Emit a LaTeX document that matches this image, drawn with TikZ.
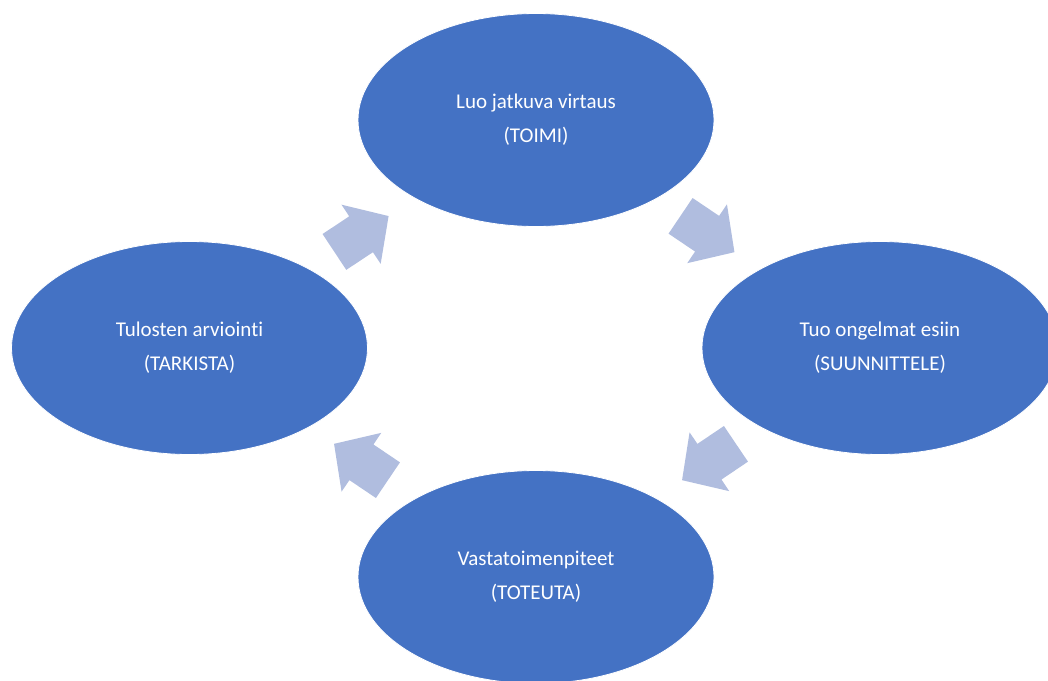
\documentclass[tikz,border=0pt]{standalone}
\usepackage{fontspec}
\setmainfont[Ligatures=NoCommon]{Carlito}
\usetikzlibrary{shapes.geometric}
\definecolor{ellblue}{HTML}{4472C4}
\definecolor{arrblue}{HTML}{B0BDDF}
\tikzset{
  phase/.style={ellipse, fill=ellblue, draw=white, line width=0.8pt, inner sep=0pt,
    minimum width=356pt, minimum height=213pt, text=white, align=center,
    font=\fontsize{21}{34}\selectfont},
  blockarrow/.style={fill=arrblue, draw=none}
}
\newcommand{\cyclearrow}[3]{%
  \begin{scope}[shift={(#1,#2)}, rotate=#3]
    \fill[blockarrow] (-32.5,-21.5) -- (-0.5,-21.5) -- (-0.5,-35.5) -- (32.5,0)
      -- (-0.5,35.5) -- (-0.5,21.5) -- (-32.5,21.5) -- cycle;
  \end{scope}}
\begin{document}
\begin{tikzpicture}[x=1pt,y=-1pt]
  \useasboundingbox (0,0) rectangle (1048,680);
  \begin{scope}
    \clip (0,0) rectangle (1048,680);
    \node[phase] (top) at (536,120) {Luo jatkuva virtaus\\(TOIMI)};
    \node[phase] (right) at (880,348) {Tuo ongelmat esiin\\(SUUNNITTELE)};
    \node[phase] (bottom) at (536,577) {Vastatoimenpiteet\\(TOTEUTA)};
    \node[phase] (left) at (189.5,348) {Tulosten arviointi\\(TARKISTA)};
  \end{scope}
  \cyclearrow{361.5}{234}{33.5}
  \cyclearrow{707.5}{234}{-34}
  \cyclearrow{709}{462}{-146}
  \cyclearrow{361}{462}{146}
\end{tikzpicture}
\end{document}
